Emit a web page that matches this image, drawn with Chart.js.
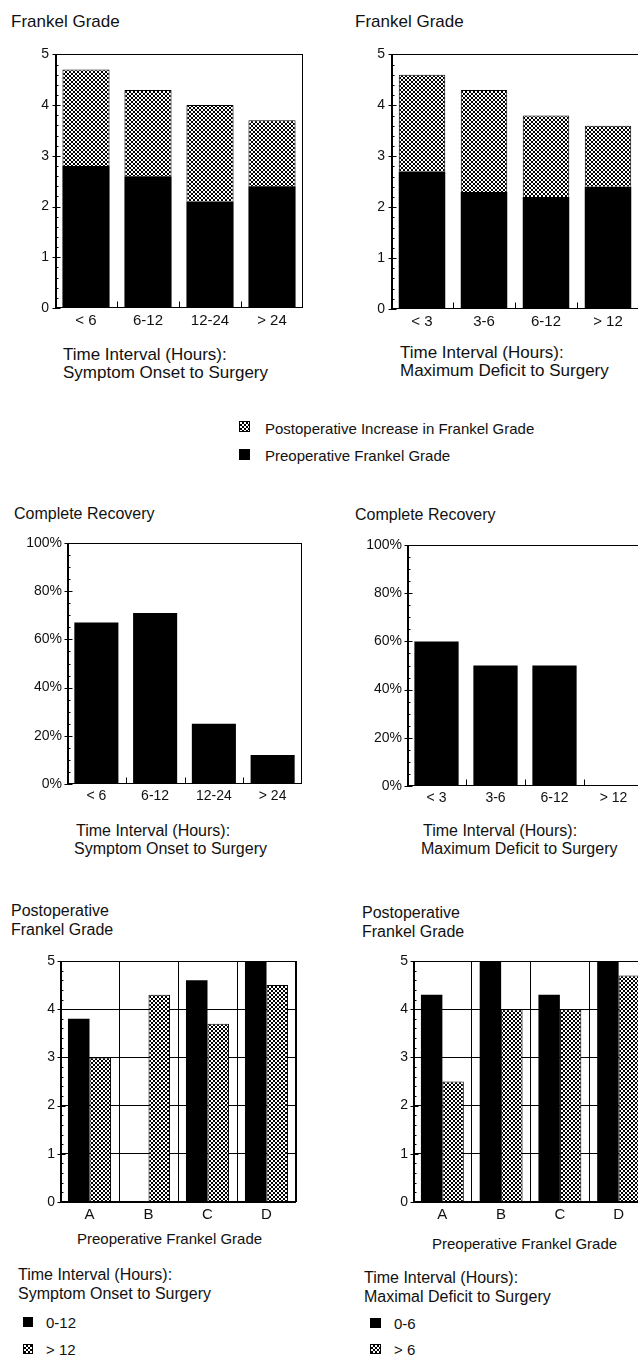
<!DOCTYPE html>
<html>
<head>
<meta charset="utf-8">
<script src="https://cdn.jsdelivr.net/npm/chart.js@4.4.1/dist/chart.umd.min.js"></script>
<style>
html,body{margin:0;padding:0;background:#fff;overflow:hidden;width:638px;height:1357px}
body{position:relative;font-family:"Liberation Sans",Arial,Helvetica,sans-serif;color:#111}
.t{position:absolute;white-space:nowrap;line-height:1;font-size:17px}
.s16{font-size:16px}
.s15{font-size:15px}
canvas{position:absolute}
.sw{position:absolute}
</style>
</head>
<body>

<!-- row 1: Frankel grade before / after surgery -->
<div class="t" style="left:11px;top:13px">Frankel Grade</div>
<canvas id="c1"></canvas>
<div class="t" style="left:63px;top:346px">Time Interval (Hours):</div>
<div class="t" style="left:63px;top:364px">Symptom Onset to Surgery</div>

<div class="t" style="left:355px;top:13px">Frankel Grade</div>
<canvas id="c2"></canvas>
<div class="t" style="left:400px;top:344px">Time Interval (Hours):</div>
<div class="t" style="left:400px;top:362px">Maximum Deficit to Surgery</div>

<canvas class="sw" id="lg1" width="11" height="11" style="left:239px;top:421px"></canvas>
<div class="t s15" style="left:265px;top:421px">Postoperative Increase in Frankel Grade</div>
<canvas class="sw" id="lg2" width="11" height="11" style="left:239px;top:449px"></canvas>
<div class="t s15" style="left:265px;top:448px">Preoperative Frankel Grade</div>

<!-- row 2: complete recovery -->
<div class="t s16" style="left:14px;top:506px">Complete Recovery</div>
<canvas id="c3"></canvas>
<div class="t s16" style="left:76px;top:823px">Time Interval (Hours):</div>
<div class="t s16" style="left:74px;top:841px">Symptom Onset to Surgery</div>

<div class="t s16" style="left:355px;top:507px">Complete Recovery</div>
<canvas id="c4"></canvas>
<div class="t s16" style="left:423px;top:823px">Time Interval (Hours):</div>
<div class="t s16" style="left:421px;top:841px">Maximum Deficit to Surgery</div>

<!-- row 3: postoperative grade by preoperative grade -->
<div class="t s16" style="left:11px;top:903px">Postoperative</div>
<div class="t s16" style="left:11px;top:922px">Frankel Grade</div>
<canvas id="c5"></canvas>
<div class="t s15" style="left:77px;top:1231px">Preoperative Frankel Grade</div>
<div class="t s16" style="left:18px;top:1267px">Time Interval (Hours):</div>
<div class="t s16" style="left:18px;top:1286px">Symptom Onset to Surgery</div>
<canvas class="sw" id="lg3" width="10" height="10" style="left:23px;top:1317px"></canvas>
<div class="t s15" style="left:46px;top:1315px">0-12</div>
<canvas class="sw" id="lg4" width="10" height="10" style="left:23px;top:1344px"></canvas>
<div class="t s15" style="left:46px;top:1342px">&gt; 12</div>

<div class="t s16" style="left:362px;top:905px">Postoperative</div>
<div class="t s16" style="left:362px;top:924px">Frankel Grade</div>
<canvas id="c6"></canvas>
<div class="t s15" style="left:432px;top:1236px">Preoperative Frankel Grade</div>
<div class="t s16" style="left:364px;top:1270px">Time Interval (Hours):</div>
<div class="t s16" style="left:364px;top:1289px">Maximal Deficit to Surgery</div>
<canvas class="sw" id="lg5" width="11" height="10" style="left:370px;top:1318px"></canvas>
<div class="t s15" style="left:394px;top:1316px">0-6</div>
<canvas class="sw" id="lg6" width="11" height="10" style="left:370px;top:1344px"></canvas>
<div class="t s15" style="left:394px;top:1342px">&gt; 6</div>

<script>
// ---- data ----
const onsetLabels = ['< 6', '6-12', '12-24', '> 24'];
const onsetPreop = [2.8, 2.6, 2.1, 2.4];
const onsetIncrease = [1.9, 1.7, 1.9, 1.3];

const deficitLabels = ['< 3', '3-6', '6-12', '> 12'];
const deficitPreop = [2.7, 2.3, 2.2, 2.4];
const deficitIncrease = [1.9, 2.0, 1.6, 1.2];

const onsetRecovery = [67, 71, 25, 12];
const deficitRecovery = [60, 50, 50, 0];

const gradeLabels = ['A', 'B', 'C', 'D'];
const onsetEarly = [3.8, 0, 4.6, 5.0];     // 0-12 h
const onsetLate = [3.0, 4.3, 3.7, 4.5];    // > 12 h
const deficitEarly = [4.3, 5.0, 4.3, 5.0]; // 0-6 h
const deficitLate = [2.5, 4.0, 4.0, 4.7];  // > 6 h

// ---- helpers ----
const FONT = '"Liberation Sans", Arial, Helvetica, sans-serif';
const INK = '#000';

// small ring tile used for the stippled fill
function stippleTile() {
  const c = document.createElement('canvas');
  c.width = 4; c.height = 4;
  const g = c.getContext('2d');
  g.fillStyle = '#fff'; g.fillRect(0, 0, 4, 4);
  g.fillStyle = '#000';
  [[1, 0], [2, 0], [0, 1], [3, 1], [0, 2], [3, 2], [1, 3], [2, 3]]
    .forEach(([x, y]) => g.fillRect(x, y, 1, 1));
  return c;
}
const TILE = stippleTile();
function stipple(canvas) {
  return canvas.getContext('2d').createPattern(TILE, 'repeat');
}

function swatch(id, kind) {
  const cv = document.getElementById(id);
  const g = cv.getContext('2d');
  g.fillStyle = kind === 'solid' ? INK : stipple(cv);
  g.fillRect(0, 0, cv.width, cv.height);
  if (kind !== 'solid') { g.strokeStyle = INK; g.lineWidth = 1; g.strokeRect(0.5, 0.5, cv.width - 1, cv.height - 1); }
}

const isInt = v => Math.abs(v - Math.round(v)) < 1e-6;

// frame around the plot, ticks on the value axis, short marks between categories
const framePlugin = {
  id: 'frame',
  afterDatasetsDraw(chart, args, opts) {
    const { ctx, chartArea: a, scales: { x, y } } = chart;
    ctx.save();
    ctx.strokeStyle = INK;
    ctx.lineWidth = 1;
    const L = Math.round(a.left) + 0.5, R = Math.round(a.right) - 0.5;
    const T = Math.round(a.top) + 0.5, B = Math.round(a.bottom) - 0.5;
    ctx.strokeRect(L, T, R - L, B - T);
    ctx.beginPath();
    ctx.moveTo(L + 1, T); ctx.lineTo(L + 1, B);
    y.ticks.forEach((t, i) => {
      const py = Math.round(y.getPixelForTick(i)) + 0.5;
      const major = t.label !== '' && t.label != null;
      ctx.moveTo(major ? L - 3 : L, py);
      ctx.lineTo(L + (major ? opts.major : opts.minor), py);
    });
    if (opts.catMarks) {
      const n = x.getLabels().length;
      for (let i = 1; i < n; i++) {
        const px = Math.round((x.getPixelForValue(i - 1) + x.getPixelForValue(i)) / 2) + 0.5;
        ctx.moveTo(px, B); ctx.lineTo(px, B - opts.catMarks);
      }
    }
    ctx.stroke();
    ctx.restore();
  }
};

function makeChart(id, box, plot, cfg) {
  const cv = document.getElementById(id);
  cv.width = box.w; cv.height = box.h;
  cv.style.left = box.x + 'px'; cv.style.top = box.y + 'px';
  const pat = stipple(cv);
  const datasets = cfg.series.map(s => ({
    label: s.name,
    data: s.data,
    backgroundColor: s.kind === 'solid' ? INK : pat,
    borderColor: INK,
    borderWidth: s.kind === 'solid' ? 0 : 1,
    borderSkipped: 'bottom',
    categoryPercentage: cfg.catPct,
    barPercentage: 1
  }));
  return new Chart(cv, {
    type: 'bar',
    data: { labels: cfg.labels, datasets },
    options: {
      responsive: false,
      animation: false,
      devicePixelRatio: 1,
      layout: { padding: { top: plot.top - box.y, right: box.x + box.w - plot.right, left: 0, bottom: 0 } },
      plugins: {
        legend: { display: false },
        tooltip: { enabled: false },
        frame: { major: 5, minor: 3, catMarks: cfg.catMarks }
      },
      scales: {
        x: {
          stacked: !!cfg.stacked,
          border: { display: false },
          grid: cfg.grid
            ? { display: true, offset: true, color: INK, lineWidth: 1, drawTicks: false }
            : { display: false, drawTicks: false },
          ticks: { color: '#111', font: { family: FONT, size: cfg.xFont }, padding: cfg.xPad, maxRotation: 0, autoSkip: false },
          afterFit(s) { s.height = box.y + box.h - plot.bottom; }
        },
        y: {
          stacked: !!cfg.stacked,
          min: 0, max: cfg.max,
          border: { display: false },
          grid: cfg.grid ? {
            display: true, drawTicks: false, lineWidth: 1,
            color: c => (c.tick && isInt(c.tick.value / cfg.major)) ? INK : 'rgba(0,0,0,0)'
          } : { display: false, drawTicks: false },
          ticks: {
            stepSize: cfg.minorStep,
            autoSkip: false,
            color: '#111',
            padding: cfg.yPad,
            font: { family: FONT, size: 14 },
            callback: v => isInt(v / cfg.major) ? String(Math.round(v)) + (cfg.suffix || '') : ''
          },
          afterFit(s) { s.width = plot.left - box.x; }
        }
      }
    },
    plugins: [framePlugin]
  });
}

// ---- row 1 ----
makeChart('c1', { x: 0, y: 40, w: 320, h: 300 }, { left: 55, top: 52, right: 303, bottom: 308 }, {
  labels: onsetLabels, stacked: true, max: 5, major: 1, minorStep: 0.2, catPct: 0.76,
  xFont: 15, xPad: 4, yPad: 6, catMarks: 6,
  series: [
    { name: 'Preoperative Frankel Grade', data: onsetPreop, kind: 'solid' },
    { name: 'Postoperative Increase in Frankel Grade', data: onsetIncrease, kind: 'stipple' }
  ]
});
makeChart('c2', { x: 320, y: 40, w: 325, h: 300 }, { left: 391, top: 53, right: 639, bottom: 309 }, {
  labels: deficitLabels, stacked: true, max: 5, major: 1, minorStep: 0.2, catPct: 0.75,
  xFont: 15, xPad: 4, yPad: 6, catMarks: 6,
  series: [
    { name: 'Preoperative Frankel Grade', data: deficitPreop, kind: 'solid' },
    { name: 'Postoperative Increase in Frankel Grade', data: deficitIncrease, kind: 'stipple' }
  ]
});
swatch('lg1', 'stipple');
swatch('lg2', 'solid');

// ---- row 2 ----
makeChart('c3', { x: 0, y: 525, w: 320, h: 290 }, { left: 67, top: 543, right: 302, bottom: 784 }, {
  labels: onsetLabels, max: 100, major: 20, minorStep: 5, suffix: '%', catPct: 0.75,
  xFont: 14, xPad: 4, yPad: 5, catMarks: 6,
  series: [{ name: 'Complete Recovery', data: onsetRecovery, kind: 'solid' }]
});
makeChart('c4', { x: 320, y: 525, w: 330, h: 290 }, { left: 407, top: 545, right: 643, bottom: 786 }, {
  labels: deficitLabels, max: 100, major: 20, minorStep: 5, suffix: '%', catPct: 0.75,
  xFont: 14, xPad: 4, yPad: 5, catMarks: 6,
  series: [{ name: 'Complete Recovery', data: deficitRecovery, kind: 'solid' }]
});

// ---- row 3 ----
makeChart('c5', { x: 0, y: 945, w: 320, h: 285 }, { left: 60, top: 961, right: 296, bottom: 1202 }, {
  labels: gradeLabels, max: 5, major: 1, minorStep: 0.2, catPct: 0.73, grid: true,
  xFont: 15, xPad: 4, yPad: 5, catMarks: 0,
  series: [
    { name: '0-12', data: onsetEarly, kind: 'solid' },
    { name: '> 12', data: onsetLate, kind: 'stipple' }
  ]
});
makeChart('c6', { x: 320, y: 945, w: 335, h: 285 }, { left: 413, top: 961, right: 648, bottom: 1202 }, {
  labels: gradeLabels, max: 5, major: 1, minorStep: 0.2, catPct: 0.73, grid: true,
  xFont: 15, xPad: 4, yPad: 5, catMarks: 0,
  series: [
    { name: '0-6', data: deficitEarly, kind: 'solid' },
    { name: '> 6', data: deficitLate, kind: 'stipple' }
  ]
});
swatch('lg3', 'solid');
swatch('lg4', 'stipple');
swatch('lg5', 'solid');
swatch('lg6', 'stipple');
</script>
</body>
</html>
